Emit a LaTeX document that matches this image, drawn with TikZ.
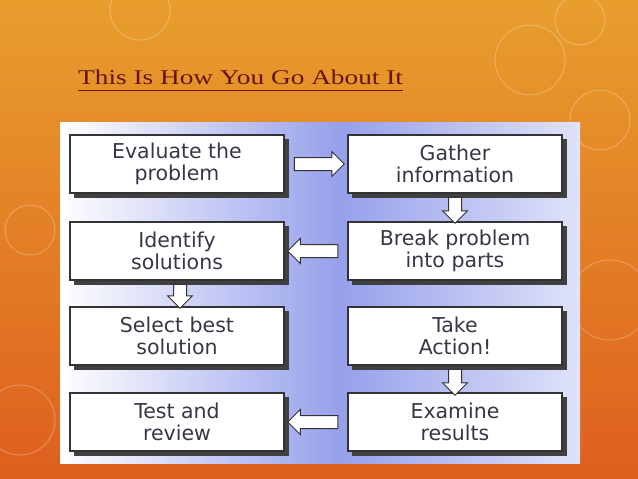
\documentclass[tikz,border=0pt]{standalone}
\usepackage{fontspec}
\setmainfont{DejaVu Sans}
\newfontfamily\titlefont{Liberation Serif}
\usetikzlibrary{shapes.arrows}
\definecolor{bgtop}{RGB}{232,158,45}
\definecolor{bgbot}{RGB}{222,95,30}
\definecolor{titlec}{RGB}{100,22,14}
\definecolor{txt}{RGB}{55,55,70}
\definecolor{pblue}{RGB}{150,160,235}
\tikzset{
  stepbox/.style={draw=black!80,line width=1.2pt,fill=white,minimum width=214pt,minimum height=58pt,
    font=\fontsize{20.5}{22}\selectfont,text=txt,align=center,inner sep=0pt},
  blk/.style={single arrow,draw=black!80,fill=white,line width=1pt,inner xsep=0pt,inner ysep=6pt,
    single arrow head extend=6pt,single arrow head indent=0pt}
}
\begin{document}
\begin{tikzpicture}[x=1pt,y=-1pt]
\useasboundingbox (0,0) rectangle (638,479);
\shade[top color=bgtop,bottom color=bgbot] (0,0) rectangle (638,479);
\foreach \cx/\cy/\r in {140/10/30,530/60/35,600/120/30,30/230/25,610/300/40,20/420/35,580/20/25}
  \draw[white,opacity=0.25,line width=1pt] (\cx,\cy) circle (\r);
\node[anchor=base west,inner sep=0pt,text=titlec,font=\titlefont\fontsize{21}{23}\selectfont] (title) at (78,84)
  {\scalebox{1.3}[1]{This Is How You Go About It}};
\draw[titlec,line width=0.8pt] (78,90) -- (403,90);
\shade[left color=white,right color=pblue] (60,122) rectangle (341,463);
\shade[left color=pblue,right color=pblue!30] (340,122) rectangle (580,463);
\foreach \n/\x/\y/\t in {a/177/164/{Evaluate the\\problem},b/455/164/{Gather\\information},
  c/177/251/{Identify\\solutions},d/455/251/{Break problem\\into parts},
  e/177/336/{Select best\\solution},f/455/336/{Take\\Action!},
  g/177/422/{Test and\\review},h/455/422/{Examine\\results}}{
  \fill[black!75] (\x-103,\y-25) rectangle (\x+112,\y+34);
  \node[stepbox] (\n) at (\x,\y) {\t};
}
\node[blk,minimum height=50pt] (ab) at (316,164) {};
\node[blk,minimum height=26pt,rotate=-90] (bd) at (455,207) {};
\node[blk,minimum height=50pt,rotate=180] (dc) at (316,251) {};
\node[blk,minimum height=24pt,rotate=-90] (ce) at (180,293) {};
\node[blk,minimum height=26pt,rotate=-90] (fh) at (455,379) {};
\node[blk,minimum height=50pt,rotate=180] (hg) at (316,422) {};
\end{tikzpicture}
\end{document}
